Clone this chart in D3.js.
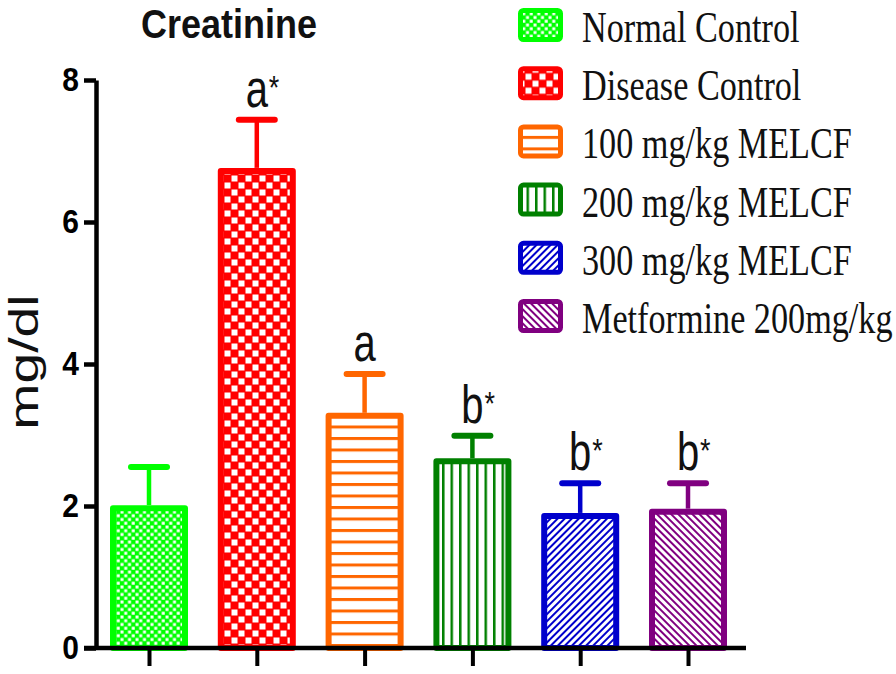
<!DOCTYPE html>
<html>
<head>
<meta charset="utf-8">
<script src="https://cdnjs.cloudflare.com/ajax/libs/d3/7.8.5/d3.min.js"></script>
<style>
  body { margin: 0; background: #fff; }
  svg { display: block; }
</style>
</head>
<body>
<div id="root"></div>
<script>
// data
var categories = ["Normal Control", "Disease Control", "100 mg/kg MELCF", "200 mg/kg MELCF", "300 mg/kg MELCF", "Metformine 200mg/kg"];
var means = [1.97, 6.72, 3.27, 2.63, 1.86, 1.92];
var errors = [0.58, 0.72, 0.59, 0.36, 0.46, 0.40];
var letters = ["", "a", "a", "b", "b", "b"];
var stars = [false, true, false, true, true, true];
var yTicks = [0, 2, 4, 6, 8];

var colors = ["#00ff00", "#ff0000", "#ff6600", "#008000", "#0000cc", "#800080"];
var patternIds = ["pNormal", "pDisease", "pHoriz", "pVert", "pDiagUp", "pDiagDown"];

var w = 896;
var h = 674;

var svg = d3.select("#root").append("svg").attr("width", w).attr("height", h);
svg.append("rect").attr("width", w).attr("height", h).attr("fill", "#fff");

var defs = svg.append("defs");

// fill patterns (GraphPad style)
function checker(id, size, sq, col) {
  var p = defs.append("pattern").attr("id", id).attr("patternUnits", "userSpaceOnUse")
    .attr("width", size).attr("height", size);
  p.append("rect").attr("width", size).attr("height", size).attr("fill", col);
  p.append("rect").attr("x", 0.5).attr("y", 0.5).attr("width", sq).attr("height", sq).attr("fill", "#fff");
  p.append("rect").attr("x", size / 2 + 0.5).attr("y", size / 2 + 0.5).attr("width", sq).attr("height", sq).attr("fill", "#fff");
}
function lines(id, period, lw, col, rot) {
  var p = defs.append("pattern").attr("id", id).attr("patternUnits", "userSpaceOnUse")
    .attr("width", period).attr("height", period)
    .attr("patternTransform", "rotate(" + rot + ")");
  p.append("rect").attr("width", period).attr("height", period).attr("fill", "#fff");
  p.append("rect").attr("x", 0).attr("y", 0).attr("width", lw).attr("height", period).attr("fill", col);
}
checker("pNormal", 7.5, 3, colors[0]);
checker("pDisease", 14, 6, colors[1]);
lines("pHoriz", 11.5, 3, colors[2], 90);
lines("pVert", 8.5, 2.5, colors[3], 0);
lines("pDiagUp", 5, 2, colors[4], 45);
lines("pDiagDown", 5, 2, colors[5], -45);

// scales
var x = d3.scalePoint().domain(categories).range([149, 688]);
var y = d3.scaleLinear().domain([0, 8]).range([648, 80]);
var barW = 72;

// stretched text helper (the source figure is squashed horizontally)
function sText(parent, tx, ty, sy, str) {
  return parent.append("g").attr("transform", "translate(" + tx + "," + ty + ") scale(1," + sy + ")")
    .append("text").text(str);
}

// title
sText(svg, 229, 38, 1.12, "Creatinine")
  .attr("text-anchor", "middle")
  .style("font-family", "'Liberation Sans', Arial, sans-serif")
  .style("font-weight", "bold").style("font-size", "36px").attr("fill", "#111");

// y axis label
svg.append("g").attr("transform", "translate(38,362) rotate(-90) scale(1.35,1)")
  .append("text").text("mg/dl")
  .attr("text-anchor", "middle")
  .style("font-family", "'Liberation Sans', Arial, sans-serif")
  .style("font-size", "41px").attr("fill", "#111");

// bars
var bars = svg.append("g");
bars.selectAll("rect").data(means).enter().append("rect")
  .attr("x", function(d, i) { return x(categories[i]) - barW / 2; })
  .attr("y", function(d) { return y(d); })
  .attr("width", barW)
  .attr("height", function(d) { return y(0) - y(d); })
  .attr("fill", function(d, i) { return "url(#" + patternIds[i] + ")"; })
  .attr("stroke", function(d, i) { return colors[i]; })
  .attr("stroke-width", 6)
  .attr("stroke-linejoin", "round");

// error bars (upper only)
var err = svg.append("g");
err.selectAll("line.v").data(means).enter().append("line").attr("class", "v")
  .attr("x1", function(d, i) { return x(categories[i]); })
  .attr("x2", function(d, i) { return x(categories[i]); })
  .attr("y1", function(d) { return y(d) - 3; })
  .attr("y2", function(d, i) { return y(d + errors[i]); })
  .attr("stroke", function(d, i) { return colors[i]; })
  .attr("stroke-width", 4.5);
err.selectAll("line.cap").data(means).enter().append("line").attr("class", "cap")
  .attr("x1", function(d, i) { return x(categories[i]) - 18; })
  .attr("x2", function(d, i) { return x(categories[i]) + 18; })
  .attr("y1", function(d, i) { return y(d + errors[i]); })
  .attr("y2", function(d, i) { return y(d + errors[i]); })
  .attr("stroke", function(d, i) { return colors[i]; })
  .attr("stroke-width", 6)
  .attr("stroke-linecap", "round");

// significance letters
var sig = svg.append("g")
  .style("font-family", "'Liberation Sans', Arial, sans-serif")
  .style("font-size", "40px").attr("fill", "#111");
categories.forEach(function(c, i) {
  if (!letters[i]) return;
  var by = y(means[i] + errors[i]) - 13;
  sText(sig, x(c), by, 1.35, letters[i]).attr("text-anchor", "middle");
  if (stars[i]) {
    sText(sig, x(c) + 12, by - 8, 1.2, "*").attr("text-anchor", "start").style("font-size", "27px");
  }
});

// y axis
var yAxis = svg.append("g").attr("transform", "translate(96,0)")
  .call(d3.axisLeft(y).tickValues(yTicks).tickSize(12).tickSizeOuter(0).tickPadding(5));
yAxis.select(".domain").attr("stroke", "#000").attr("stroke-width", 4.5);
yAxis.selectAll(".tick line").attr("stroke", "#000").attr("stroke-width", 4.5);
yAxis.selectAll(".tick text")
  .attr("transform", "scale(1,1.1)")
  .style("font-family", "'Liberation Sans', Arial, sans-serif")
  .style("font-weight", "bold").style("font-size", "30px").attr("fill", "#000");

// x axis
var xAxis = svg.append("g").attr("transform", "translate(0," + y(0) + ")")
  .call(d3.axisBottom(x).tickSize(18).tickSizeOuter(0).tickFormat(""));
xAxis.select(".domain").remove();
xAxis.selectAll(".tick line").attr("stroke", "#000").attr("stroke-width", 4);
xAxis.append("line").attr("x1", 84).attr("x2", 746).attr("y1", 0).attr("y2", 0)
  .attr("stroke", "#000").attr("stroke-width", 4.5);

// legend
var legend = svg.append("g");
var rowY = d3.scalePoint().domain(categories).range([8, 299]);
categories.forEach(function(c, i) {
  var g = legend.append("g").attr("transform", "translate(518," + rowY(c) + ")");
  g.append("rect").attr("x", 2.5).attr("y", 2.5).attr("width", 40).attr("height", 29)
    .attr("rx", 3)
    .attr("fill", "url(#" + patternIds[i] + ")")
    .attr("stroke", colors[i]).attr("stroke-width", 5);
  sText(g, 64, 34, 1.3, c)
    .style("font-family", "'Liberation Serif', 'Times New Roman', serif")
    .style("font-size", "34.2px").attr("fill", "#111");
});
</script>
</body>
</html>
